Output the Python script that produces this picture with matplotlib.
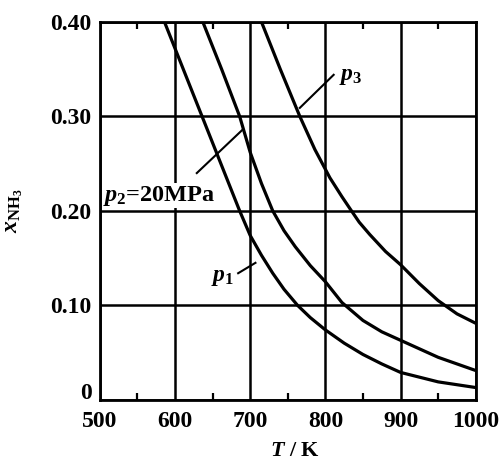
import matplotlib
matplotlib.use("Agg")
import matplotlib.pyplot as plt
import matplotlib.transforms as mtransforms
from matplotlib.ticker import MultipleLocator

plt.rcParams['font.family'] = ['Liberation Serif', 'DejaVu Serif']
plt.rcParams['font.weight'] = 'bold'
plt.rcParams['mathtext.fontset'] = 'custom'
plt.rcParams['mathtext.rm'] = 'Liberation Serif:bold'
plt.rcParams['mathtext.it'] = 'Liberation Serif:italic:bold'
plt.rcParams['mathtext.bf'] = 'Liberation Serif:bold'

# equilibrium NH3 mole fraction vs temperature
t_p1 = [586, 610, 636, 660, 686, 700, 715, 730, 745, 763, 780, 800, 825, 850, 875, 900, 950, 1000]
x_p1 = [0.400, 0.352, 0.300, 0.252, 0.200, 0.174, 0.153, 0.134, 0.117, 0.100, 0.087, 0.074,
        0.060, 0.048, 0.038, 0.029, 0.019, 0.013]

t_p2 = [637, 662, 686, 700, 715, 730, 745, 760, 780, 800, 822, 850, 875, 900, 950, 1000]
x_p2 = [0.400, 0.350, 0.300, 0.262, 0.229, 0.200, 0.179, 0.162, 0.142, 0.125, 0.103, 0.084,
        0.072, 0.063, 0.045, 0.031]

t_p3 = [715, 740, 766, 786, 806, 822, 833, 845, 859, 880, 900, 925, 950, 975, 1000]
x_p3 = [0.400, 0.350, 0.300, 0.265, 0.235, 0.215, 0.202, 0.188, 0.175, 0.157, 0.143, 0.123,
        0.105, 0.091, 0.081]

x_ticks = [500, 600, 700, 800, 900, 1000]
y_ticks = [0, 0.10, 0.20, 0.30, 0.40]
y_tick_labels = ['0', '0.10', '0.20', '0.30', '0.40']

fig = plt.figure(figsize=(5.04, 4.66), dpi=100)
ax = fig.add_axes([0.198, 0.142, 0.746, 0.811])

for t, x in [(t_p1, x_p1), (t_p2, x_p2), (t_p3, x_p3)]:
    ax.plot(t, x, color='black', linewidth=2.3, zorder=3)

ax.set_xlim(500, 1000)
ax.set_ylim(0, 0.40)
ax.set_xticks(x_ticks)
ax.set_yticks(y_ticks)
ax.set_yticklabels(y_tick_labels)
ax.xaxis.set_minor_locator(MultipleLocator(50))
ax.tick_params(which='major', length=0, labelsize=17)
ax.tick_params(axis='x', which='major', pad=8)
ax.tick_params(axis='y', which='major', pad=6)
ax.tick_params(axis='x', which='minor', direction='in', length=5, width=1.6,
               top=True, bottom=True)
ax.tick_params(axis='y', which='minor', length=0)
ax.grid(True, which='major', color='black', linewidth=1.8)
for s in ax.spines.values():
    s.set_linewidth(2.0)

# the "0" sits a little above the corner
zero = ax.get_yticklabels()[0]
zero.set_transform(zero.get_transform() +
                   mtransforms.ScaledTranslation(0, 6 / 72, fig.dpi_scale_trans))

ax.set_xlabel('$T$ / K', fontsize=16, fontweight='bold')
ax.xaxis.set_label_coords(0.52, -0.11)
ax.set_ylabel(r'$x_{\mathrm{NH_3}}$', fontsize=17)
ax.yaxis.set_label_coords(-0.2, 0.5)

# curve labels with leader lines
ax.plot([766, 811], [0.309, 0.344], color='black', linewidth=1.5)
ax.text(818, 0.342, '$p_3$', fontsize=17, ha='left', va='center')

ax.plot([629, 690], [0.240, 0.286], color='black', linewidth=1.5)
ax.text(504, 0.216, '$p_2$=20MPa', fontsize=17.5, fontweight='bold', ha='left', va='center',
        bbox=dict(facecolor='white', edgecolor='none', pad=0.5))

ax.plot([684, 707], [0.134, 0.145], color='black', linewidth=1.5)
ax.text(679, 0.130, '$p_1$', fontsize=17, ha='right', va='center')

fig.savefig('out.png', dpi=100)
